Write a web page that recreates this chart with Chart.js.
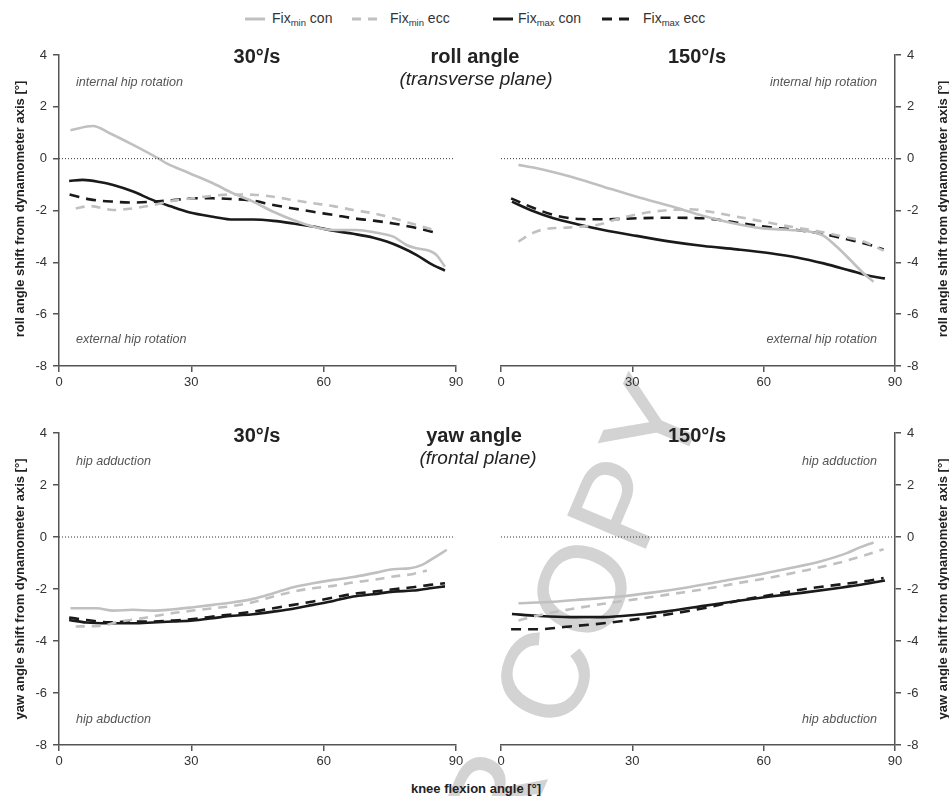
<!DOCTYPE html>
<html>
<head>
<meta charset="utf-8">
<script src="https://cdn.jsdelivr.net/npm/chart.js@4.4.1/dist/chart.umd.min.js"></script>
<style>
  html, body { margin: 0; padding: 0; background: #fff; }
  #page { position: relative; width: 949px; height: 796px; overflow: hidden; font-family: "Liberation Sans", Arial, sans-serif; color: #222; }
  canvas { position: absolute; }
  .t { position: absolute; white-space: nowrap; }
  .c { transform: translate(-50%, -50%); }
  .title { font-weight: bold; font-size: 20px; color: #222; }
  .sub { font-style: italic; font-size: 19px; color: #222; }
  .ann { font-style: italic; font-size: 12.6px; color: #555; transform: translateY(-50%); }
  .annR { font-style: italic; font-size: 12.6px; color: #555; transform: translate(-100%, -50%); }
  .ytitle { font-weight: bold; font-size: 13px; color: #222; transform: translate(-50%, -50%) rotate(-90deg); }
  #legend { position: absolute; top: 9px; left: 0; width: 949px; height: 20px; font-size: 14px; color: #333; }
  #legend .item { position: absolute; top: 0; display: flex; align-items: center; height: 20px; }
  #legend sub { font-size: 9.5px; vertical-align: -3px; }
  #wm { position: absolute; left: 0; top: 0; }
</style>
</head>
<body>
<div id="page">
  <svg id="wm" width="949" height="796">
    <g font-family="Liberation Sans, Arial, sans-serif" font-size="122" fill="#d3d3d3" stroke="#d3d3d3" stroke-width="1.5" style="letter-spacing:5px">
      <text x="566" y="734.6" text-anchor="start" transform="rotate(-67 566 734.6)">COPY</text>
      <text x="550.8" y="770.5" text-anchor="end" transform="rotate(-67 550.8 770.5)">AUTHOR</text>
    </g>
  </svg>

  <canvas id="c1" width="474" height="370" style="left:0px;top:30px"></canvas>
  <canvas id="c2" width="474" height="370" style="left:475px;top:30px"></canvas>
  <canvas id="c3" width="474" height="375" style="left:0px;top:400px"></canvas>
  <canvas id="c4" width="474" height="375" style="left:475px;top:400px"></canvas>

  <div id="legend">
    <div class="item" style="left:245px"><svg width="22" height="6"><line x1="0" y1="3" x2="20" y2="3" stroke="#c0c0c0" stroke-width="3"/></svg><span style="margin-left:5px">Fix<sub>min</sub> con</span></div>
    <div class="item" style="left:352px"><svg width="36" height="6"><line x1="0" y1="3" x2="26" y2="3" stroke="#c0c0c0" stroke-width="3" stroke-dasharray="9,7"/></svg><span style="margin-left:2px">Fix<sub>min</sub> ecc</span></div>
    <div class="item" style="left:493px"><svg width="22" height="6"><line x1="0" y1="3" x2="20" y2="3" stroke="#1a1a1a" stroke-width="3"/></svg><span style="margin-left:3px">Fix<sub>max</sub> con</span></div>
    <div class="item" style="left:602px"><svg width="40" height="6"><line x1="0" y1="3" x2="28" y2="3" stroke="#1a1a1a" stroke-width="3" stroke-dasharray="10,7"/></svg><span style="margin-left:1px">Fix<sub>max</sub> ecc</span></div>
  </div>

  <div class="t c title" style="left:257px;top:56px">30°/s</div>
  <div class="t c title" style="left:475px;top:56px">roll angle</div>
  <div class="t c sub" style="left:476px;top:79px">(transverse plane)</div>
  <div class="t c title" style="left:697px;top:56px">150°/s</div>
  <div class="t ann" style="left:76px;top:82px">internal hip rotation</div>
  <div class="t ann" style="left:76px;top:339px">external hip rotation</div>
  <div class="t annR" style="left:877px;top:82px">internal hip rotation</div>
  <div class="t annR" style="left:877px;top:339px">external hip rotation</div>
  <div class="t ytitle" style="left:19px;top:209px">roll angle shift from dynamometer axis [°]</div>
  <div class="t ytitle" style="left:942px;top:209px">roll angle shift from dynamometer axis [°]</div>

  <div class="t c title" style="left:257px;top:435px">30°/s</div>
  <div class="t c title" style="left:474px;top:435px">yaw angle</div>
  <div class="t c sub" style="left:478px;top:458px">(frontal plane)</div>
  <div class="t c title" style="left:697px;top:435px">150°/s</div>
  <div class="t ann" style="left:76px;top:461px">hip adduction</div>
  <div class="t ann" style="left:76px;top:719px">hip abduction</div>
  <div class="t annR" style="left:877px;top:461px">hip adduction</div>
  <div class="t annR" style="left:877px;top:719px">hip abduction</div>
  <div class="t ytitle" style="left:19px;top:589px">yaw angle shift from dynamometer axis [°]</div>
  <div class="t ytitle" style="left:942px;top:589px">yaw angle shift from dynamometer axis [°]</div>

  <div class="t c" style="left:476px;top:788px;font-weight:bold;font-size:13px;color:#222">knee flexion angle [°]</div>
</div>

<script>
// ---- Axis ticks ----
const xTicks = [0, 30, 60, 90];
const yTicks = [-8, -6, -4, -2, 0, 2, 4];

// ---- Roll angle, 30°/s ----
const roll30MinConX = [2.6, 7.7, 11.5, 16.8, 22.5, 24.4, 29.7, 34.9, 39.5, 44, 48.6, 53.1, 57.6, 62.2, 67.5, 72, 75.8, 78.8, 81.1, 84.1, 85.6, 87.5];
const roll30MinConY = [1.1, 1.26, 0.98, 0.53, 0.01, -0.18, -0.57, -0.95, -1.34, -1.66, -2.05, -2.37, -2.62, -2.75, -2.75, -2.86, -3.01, -3.33, -3.46, -3.56, -3.72, -4.17];
const roll30MinEccX = [3.8, 7, 12.3, 16.8, 21.3, 25.9, 30.4, 34.9, 39.5, 44, 48.6, 53.1, 57.6, 62.2, 66.7, 71.3, 75.8, 80.3, 84.9];
const roll30MinEccY = [-1.92, -1.83, -1.98, -1.92, -1.79, -1.62, -1.53, -1.43, -1.38, -1.39, -1.47, -1.6, -1.72, -1.83, -1.98, -2.11, -2.3, -2.52, -2.75];
const roll30MaxConX = [2.3, 5.4, 9.2, 12.3, 16.8, 21.3, 25.1, 29.7, 34.9, 39.5, 44, 48.6, 53.1, 57.6, 62.2, 66.7, 71.3, 74.3, 77.3, 81.1, 84.1, 87.5];
const roll30MaxConY = [-0.86, -0.82, -0.9, -1.02, -1.27, -1.6, -1.83, -2.08, -2.24, -2.35, -2.35, -2.4, -2.5, -2.62, -2.78, -2.9, -3.05, -3.2, -3.4, -3.72, -4.04, -4.32];
const roll30MaxEccX = [2.4, 7, 12.3, 16.8, 21.3, 25.9, 30.4, 34.9, 39.5, 44, 48.6, 53.1, 57.6, 62.2, 66.7, 71.3, 75.8, 80.3, 85.6];
const roll30MaxEccY = [-1.38, -1.57, -1.66, -1.69, -1.66, -1.6, -1.53, -1.53, -1.56, -1.62, -1.79, -1.92, -2.05, -2.17, -2.3, -2.39, -2.5, -2.65, -2.86];

// ---- Roll angle, 150°/s ----
const roll150MinConX = [4, 8.2, 15.8, 23.4, 31, 38.7, 46.3, 53.9, 60, 66, 70.6, 73.7, 76.7, 79.8, 82.8, 85.1];
const roll150MinConY = [-0.24, -0.37, -0.69, -1.08, -1.47, -1.83, -2.21, -2.52, -2.69, -2.75, -2.82, -2.98, -3.4, -3.91, -4.42, -4.75];
const roll150MinEccX = [4, 6.7, 9.7, 15.8, 21.9, 27.2, 33.3, 38.7, 43.2, 47.8, 53.9, 60, 66, 72.1, 78.2, 82.8, 87.4];
const roll150MinEccY = [-3.2, -2.91, -2.73, -2.65, -2.56, -2.3, -2.08, -1.98, -1.95, -2.05, -2.24, -2.43, -2.62, -2.79, -3.01, -3.2, -3.55];
const roll150MaxConX = [2.5, 6.7, 12, 17.4, 23.4, 31, 38.7, 46.3, 53.9, 61.5, 67.6, 73.7, 79.8, 84.3, 87.7];
const roll150MaxConY = [-1.66, -1.98, -2.3, -2.53, -2.75, -2.98, -3.2, -3.37, -3.5, -3.65, -3.81, -4.04, -4.32, -4.53, -4.62];
const roll150MaxEccX = [2.3, 6.7, 12, 18.1, 23.4, 31, 38.7, 46.3, 53.9, 61.5, 67.6, 73.7, 79.8, 84.3, 87.4];
const roll150MaxEccY = [-1.53, -1.85, -2.17, -2.33, -2.34, -2.3, -2.28, -2.3, -2.47, -2.65, -2.75, -2.91, -3.14, -3.33, -3.5];

// ---- Yaw angle, 30°/s ----
const yaw30MinConX = [2.6, 8.5, 12.3, 16.8, 21.3, 25.9, 30.4, 34.9, 39.5, 44, 48.6, 53.1, 57.6, 62.2, 66.7, 71.3, 75.8, 79.6, 82.3, 84.9, 87.9];
const yaw30MinConY = [-2.74, -2.74, -2.83, -2.8, -2.83, -2.78, -2.7, -2.61, -2.51, -2.38, -2.16, -1.93, -1.78, -1.65, -1.54, -1.39, -1.24, -1.2, -1.07, -0.81, -0.49];
const yaw30MinEccX = [3.8, 9.2, 13.8, 19.1, 24.4, 30.4, 34.9, 39.5, 44, 48.6, 53.1, 57.6, 62.2, 66.7, 71.3, 75.8, 80.3, 83.4];
const yaw30MinEccY = [-3.44, -3.42, -3.25, -3.12, -2.96, -2.83, -2.74, -2.65, -2.51, -2.29, -2.1, -1.97, -1.88, -1.75, -1.65, -1.52, -1.42, -1.29];
const yaw30MaxConX = [2.3, 6.2, 10.7, 16.8, 21.3, 25.9, 30.4, 34.9, 39.5, 44, 48.6, 53.1, 57.6, 62.2, 66.7, 71.3, 75.8, 80.3, 84.1, 87.5];
const yaw30MaxConY = [-3.19, -3.29, -3.32, -3.32, -3.29, -3.25, -3.21, -3.12, -3.03, -2.97, -2.87, -2.76, -2.61, -2.46, -2.29, -2.2, -2.1, -2.06, -1.97, -1.9];
const yaw30MaxEccX = [2.3, 6.2, 11.5, 16.8, 21.3, 25.9, 30.4, 34.9, 39.5, 44, 48.6, 53.1, 57.6, 62.2, 66.7, 71.3, 75.8, 80.3, 84.1, 87.5];
const yaw30MaxEccY = [-3.1, -3.19, -3.28, -3.25, -3.25, -3.21, -3.16, -3.06, -2.97, -2.87, -2.74, -2.61, -2.48, -2.33, -2.19, -2.1, -2.01, -1.93, -1.84, -1.78];

// ---- Yaw angle, 150°/s ----
const yaw150MinConX = [4, 12, 19.6, 27.2, 34.9, 42.5, 50.1, 57.7, 65.3, 72.9, 79, 82, 85.1];
const yaw150MinConY = [-2.55, -2.49, -2.39, -2.29, -2.13, -1.94, -1.71, -1.48, -1.22, -0.94, -0.62, -0.4, -0.21];
const yaw150MinEccX = [4, 8.2, 15.8, 23.4, 31, 38.7, 46.3, 53.9, 61.5, 69.1, 76.7, 82.8, 87.4];
const yaw150MinEccY = [-3.21, -3.03, -2.78, -2.57, -2.39, -2.2, -2.01, -1.78, -1.56, -1.3, -1.01, -0.72, -0.47];
const yaw150MaxConX = [2.5, 8.2, 15.8, 23.4, 31, 38.7, 46.3, 53.9, 61.5, 69.1, 76.7, 82.8, 87.7];
const yaw150MaxConY = [-2.96, -3.03, -3.08, -3.08, -2.99, -2.84, -2.65, -2.46, -2.29, -2.14, -1.97, -1.82, -1.67];
const yaw150MaxEccX = [2.3, 8.2, 15.8, 23.4, 31, 38.7, 46.3, 53.9, 61.5, 69.1, 76.7, 82.8, 87.4];
const yaw150MaxEccY = [-3.55, -3.55, -3.44, -3.32, -3.16, -2.96, -2.74, -2.46, -2.23, -2.01, -1.84, -1.71, -1.58];

// zero reference line
const zeroLineX = [0, 89.5];
const zeroLineY = [0, 0];

const GRAY = '#c0c0c0';
const BLACK = '#1a1a1a';
const AXIS = '#555555';

function pts(xs, ys) { return xs.map((x, i) => ({ x: x, y: ys[i] })); }

function series(set) {
  return [
    { data: pts(zeroLineX, zeroLineY), borderColor: '#333', borderWidth: 1, borderDash: [1, 2], tension: 0 },
    { data: pts(set[0], set[1]), borderColor: GRAY, borderWidth: 2.6, cubicInterpolationMode: 'monotone' },
    { data: pts(set[2], set[3]), borderColor: GRAY, borderWidth: 2.6, borderDash: [9, 7], cubicInterpolationMode: 'monotone' },
    { data: pts(set[4], set[5]), borderColor: BLACK, borderWidth: 2.6, cubicInterpolationMode: 'monotone' },
    { data: pts(set[6], set[7]), borderColor: BLACK, borderWidth: 2.6, borderDash: [10, 7], cubicInterpolationMode: 'monotone' }
  ];
}

const tickFont = { family: '"Liberation Sans", Arial, sans-serif', size: 13 };

function makeChart(id, set, side, padTop, xHeight) {
  const left = side === 'left';
  new Chart(document.getElementById(id), {
    type: 'line',
    data: { datasets: series(set) },
    options: {
      responsive: false,
      animation: false,
      devicePixelRatio: 1,
      layout: { padding: { top: padTop, bottom: 0, left: left ? 0 : 26, right: left ? 18 : 0 } },
      plugins: { legend: { display: false }, tooltip: { enabled: false } },
      elements: { point: { radius: 0 } },
      scales: {
        x: {
          type: 'linear', min: 0, max: 90,
          afterBuildTicks: s => { s.ticks = xTicks.map(v => ({ value: v })); },
          ticks: { font: tickFont, color: '#333', padding: 3, maxRotation: 0 },
          grid: { drawOnChartArea: false, drawTicks: true, tickLength: 6, color: AXIS, lineWidth: 1.5 },
          border: { display: true, color: AXIS, width: 1.5 },
          afterFit: s => { s.height = xHeight; }
        },
        y: {
          type: 'linear', min: -8, max: 4, position: side,
          afterBuildTicks: s => { s.ticks = yTicks.map(v => ({ value: v })); },
          ticks: { font: tickFont, color: '#333', padding: 6 },
          grid: { drawOnChartArea: false, drawTicks: true, tickLength: 6, color: AXIS, lineWidth: 1.5 },
          border: { display: true, color: AXIS, width: 1.5 },
          afterFit: s => { s.width = left ? 59 : 54; }
        }
      }
    }
  });
}

makeChart('c1', [roll30MinConX, roll30MinConY, roll30MinEccX, roll30MinEccY, roll30MaxConX, roll30MaxConY, roll30MaxEccX, roll30MaxEccY], 'left', 25, 34);
makeChart('c2', [roll150MinConX, roll150MinConY, roll150MinEccX, roll150MinEccY, roll150MaxConX, roll150MaxConY, roll150MaxEccX, roll150MaxEccY], 'right', 25, 34);
makeChart('c3', [yaw30MinConX, yaw30MinConY, yaw30MinEccX, yaw30MinEccY, yaw30MaxConX, yaw30MaxConY, yaw30MaxEccX, yaw30MaxEccY], 'left', 33, 30);
makeChart('c4', [yaw150MinConX, yaw150MinConY, yaw150MinEccX, yaw150MinEccY, yaw150MaxConX, yaw150MaxConY, yaw150MaxEccX, yaw150MaxEccY], 'right', 33, 30);
</script>
</body>
</html>
